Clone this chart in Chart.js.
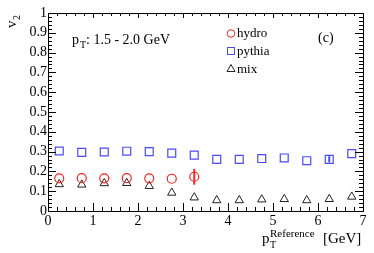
<!DOCTYPE html>
<html><head><meta charset="utf-8">
<script src="https://cdn.jsdelivr.net/npm/chart.js@4"></script>
<style>html,body{margin:0;padding:0;background:#fff}#c{display:block}</style>
</head><body><canvas id="c" width="374" height="253"></canvas>
<script>
const hydroX   = [0.25, 0.75, 1.25, 1.75, 2.25, 2.75, 3.25];
const hydroV   = [0.165, 0.166, 0.165, 0.166, 0.165, 0.163, 0.173];
const hydroErr = [0, 0, 0, 0, 0, 0, 0.04];
const pythiaX  = [0.25, 0.75, 1.25, 1.75, 2.25, 2.75, 3.25, 3.75, 4.25, 4.75, 5.25, 5.75, 6.25, 6.75];
const pythiaV  = [0.303, 0.296, 0.298, 0.302, 0.300, 0.292, 0.282, 0.261, 0.261, 0.265, 0.268, 0.254, 0.261, 0.290];
const pythiaErr= [0, 0, 0, 0, 0, 0, 0, 0, 0, 0, 0, 0, 0.016, 0];
const mixX     = [0.25, 0.75, 1.25, 1.75, 2.25, 2.75, 3.25, 3.75, 4.25, 4.75, 5.25, 5.75, 6.25, 6.75];
const mixV     = [0.135, 0.133, 0.140, 0.141, 0.126, 0.092, 0.068, 0.054, 0.054, 0.058, 0.060, 0.054, 0.060, 0.072];
const xTickLabels = ['0','1','2','3','4','5','6','7'];
const yTickLabels = ['0','0.1','0.2','0.3','0.4','0.5','0.6','0.7','0.8','0.9','1'];

const RED = '#ff2020', BLUE = '#4a4aff', BLACK = '#222222';
const FONT = '"Liberation Serif", "DejaVu Serif", serif';

function pts(xs, ys){ return xs.map((x,i)=>({x:x, y:ys[i]})); }

const deco = {
  id: 'deco',
  afterDatasetsDraw(chart){
    const ctx = chart.ctx, ca = chart.chartArea;
    const xs = chart.scales.x, ys = chart.scales.y;
    ctx.save();
    // error bars
    ctx.lineWidth = 2;
    const eb = (X, V, E, col) => {
      ctx.strokeStyle = col;
      X.forEach((x,i)=>{ if(E[i]>0){
        const px = xs.getPixelForValue(x);
        ctx.beginPath();
        ctx.moveTo(px, ys.getPixelForValue(V[i]+E[i]));
        ctx.lineTo(px, ys.getPixelForValue(V[i]-E[i]));
        ctx.stroke();
      }});
    };
    eb(hydroX, hydroV, hydroErr, RED);
    eb(pythiaX, pythiaV, pythiaErr, BLUE);
    // frame
    ctx.strokeStyle = '#000'; ctx.lineWidth = 1;
    ctx.strokeRect(Math.round(ca.left)+0.5, Math.round(ca.top)+0.5, Math.round(ca.right-ca.left), Math.round(ca.bottom-ca.top));
    ctx.beginPath();
    for (let k=0;k<=35;k++){
      const v = k*0.2, px = Math.round(xs.getPixelForValue(v))+0.5;
      const maj = k%5===0;
      ctx.moveTo(px, ca.bottom); ctx.lineTo(px, ca.bottom-(maj?8:4));
      ctx.moveTo(px, ca.top); ctx.lineTo(px, ca.top+(maj?5:3));
    }
    for (let k=0;k<=50;k++){
      const v = k*0.02, py = Math.round(ys.getPixelForValue(v))+0.5;
      const maj = k%5===0;
      ctx.moveTo(ca.left, py); ctx.lineTo(ca.left+(maj?8:4), py);
      ctx.moveTo(ca.right, py); ctx.lineTo(ca.right-(maj?8:4), py);
    }
    ctx.stroke();
    // tick labels
    ctx.fillStyle = '#000';
    ctx.font = '14px ' + FONT;
    ctx.textAlign = 'right'; ctx.textBaseline = 'middle';
    yTickLabels.forEach((t,i)=>{ ctx.fillText(t, ca.left-1, ys.getPixelForValue(i*0.1)); });
    ctx.textAlign = 'center'; ctx.textBaseline = 'top';
    xTickLabels.forEach((t,i)=>{ ctx.fillText(t, xs.getPixelForValue(i), ca.bottom+3); });
    // x title
    ctx.textAlign = 'left'; ctx.textBaseline = 'alphabetic';
    ctx.font = '15px ' + FONT; ctx.fillText('p', 262, 243);
    ctx.font = '10px ' + FONT; ctx.fillText('T', 270, 248);
    ctx.font = '11px ' + FONT; ctx.fillText('Reference', 270, 237);
    ctx.font = '15px ' + FONT; ctx.fillText('[GeV]', 323, 243);
    // y title
    ctx.save(); ctx.translate(16, 28); ctx.rotate(-Math.PI/2);
    ctx.font = '15px ' + FONT; ctx.fillText('v', 0, 0);
    ctx.font = '10px ' + FONT; ctx.fillText('2', 8, 4);
    ctx.restore();
    // annotation
    ctx.font = '14px ' + FONT;
    ctx.fillText('p', 72, 44);
    ctx.font = '10px ' + FONT; ctx.fillText('T', 80, 48);
    ctx.font = '14px ' + FONT; ctx.fillText(': 1.5 - 2.0 GeV', 86, 44);
    ctx.fillText('(c)', 318, 42);
    // legend
    ctx.font = '13px ' + FONT;
    ctx.fillText('hydro', 237, 37);
    ctx.fillText('pythia', 237, 55);
    ctx.fillText('mix', 237, 73);
    ctx.lineWidth = 1;
    ctx.strokeStyle = RED; ctx.beginPath(); ctx.arc(231, 33.5, 3.8, 0, Math.PI*2); ctx.stroke();
    ctx.strokeStyle = BLUE; ctx.strokeRect(227.5, 47.5, 7, 7);
    ctx.strokeStyle = BLACK; ctx.beginPath(); ctx.moveTo(231, 64.5); ctx.lineTo(235, 71.5); ctx.lineTo(227, 71.5); ctx.closePath(); ctx.stroke();
    ctx.restore();
  }
};

new Chart(document.getElementById('c'), {
  type: 'scatter',
  data: { datasets: [
    { label:'pythia', data: pts(pythiaX, pythiaV), pointStyle:'rect', pointRadius:5.6, borderColor:BLUE, backgroundColor:'rgba(0,0,0,0)', borderWidth:1.2 },
    { label:'hydro', data: pts(hydroX, hydroV), pointStyle:'circle', pointRadius:4.5, borderColor:RED, backgroundColor:'rgba(0,0,0,0)', borderWidth:1.2 },
    { label:'mix', data: pts(mixX, mixV), pointStyle:'triangle', pointRadius:4.8, borderColor:BLACK, backgroundColor:'rgba(0,0,0,0)', borderWidth:1 }
  ]},
  options: {
    responsive:false, animation:false, devicePixelRatio:1,
    layout:{ padding:{ left:48, top:13, right:11, bottom:42 } },
    plugins:{ legend:{display:false}, tooltip:{enabled:false} },
    scales:{
      x:{ type:'linear', min:0, max:7, display:false },
      y:{ type:'linear', min:0, max:1, display:false }
    }
  },
  plugins:[deco]
});
</script>
</body></html>
